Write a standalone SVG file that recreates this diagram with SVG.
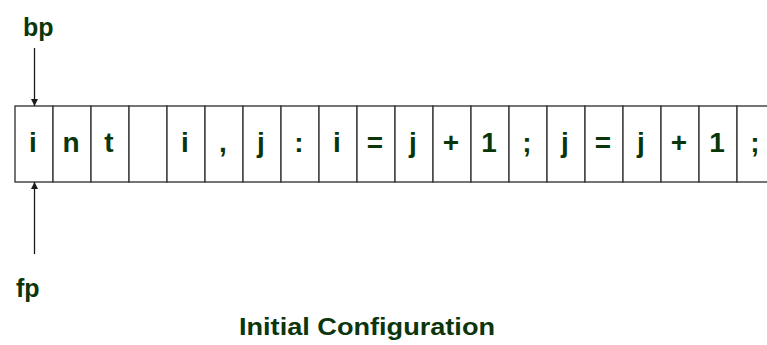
<svg xmlns="http://www.w3.org/2000/svg" width="767" height="345" viewBox="0 0 767 345">
<style>
.cell{fill:#ffffff;stroke:#3a3a3a;stroke-width:1.4}
.ch{font-family:"Liberation Sans",Arial,sans-serif;font-weight:bold;font-size:28px;fill:#0b350b;text-anchor:middle}
.lbl{font-family:"Liberation Sans",Arial,sans-serif;font-weight:bold;font-size:25px;fill:#0b350b}
.title{font-family:"Liberation Sans",Arial,sans-serif;font-weight:bold;font-size:24px;fill:#0b350b}
.arr{stroke:#1a1a1a;stroke-width:1.3;fill:none}
</style>
<defs>
<marker id="ah" viewBox="0 0 10 10" refX="10" refY="5" markerWidth="7" markerHeight="7" orient="auto" markerUnits="userSpaceOnUse">
<path d="M0,0 L10,5 L0,10 z" fill="#1a1a1a"/>
</marker>
</defs>
<rect width="767" height="345" fill="#ffffff"/>
<g id="buffer">
<g id="c0"><rect class="cell" x="15" y="106" width="38" height="76"/><text class="ch" x="33" y="152">i</text></g>
<g id="c1"><rect class="cell" x="53" y="106" width="38" height="76"/><text class="ch" x="71" y="152">n</text></g>
<g id="c2"><rect class="cell" x="91" y="106" width="38" height="76"/><text class="ch" x="109" y="152">t</text></g>
<g id="c3"><rect class="cell" x="129" y="106" width="38" height="76"/></g>
<g id="c4"><rect class="cell" x="167" y="106" width="38" height="76"/><text class="ch" x="185" y="152">i</text></g>
<g id="c5"><rect class="cell" x="205" y="106" width="38" height="76"/><text class="ch" x="223" y="152">,</text></g>
<g id="c6"><rect class="cell" x="243" y="106" width="38" height="76"/><text class="ch" x="261" y="152">j</text></g>
<g id="c7"><rect class="cell" x="281" y="106" width="38" height="76"/><text class="ch" x="299" y="152">:</text></g>
<g id="c8"><rect class="cell" x="319" y="106" width="38" height="76"/><text class="ch" x="337" y="152">i</text></g>
<g id="c9"><rect class="cell" x="357" y="106" width="38" height="76"/><text class="ch" x="375" y="152">=</text></g>
<g id="c10"><rect class="cell" x="395" y="106" width="38" height="76"/><text class="ch" x="413" y="152">j</text></g>
<g id="c11"><rect class="cell" x="433" y="106" width="38" height="76"/><text class="ch" x="451" y="152">+</text></g>
<g id="c12"><rect class="cell" x="471" y="106" width="38" height="76"/><text class="ch" x="489" y="152">1</text></g>
<g id="c13"><rect class="cell" x="509" y="106" width="38" height="76"/><text class="ch" x="527" y="152">;</text></g>
<g id="c14"><rect class="cell" x="547" y="106" width="38" height="76"/><text class="ch" x="565" y="152">j</text></g>
<g id="c15"><rect class="cell" x="585" y="106" width="38" height="76"/><text class="ch" x="603" y="152">=</text></g>
<g id="c16"><rect class="cell" x="623" y="106" width="38" height="76"/><text class="ch" x="641" y="152">j</text></g>
<g id="c17"><rect class="cell" x="661" y="106" width="38" height="76"/><text class="ch" x="679" y="152">+</text></g>
<g id="c18"><rect class="cell" x="699" y="106" width="38" height="76"/><text class="ch" x="717" y="152">1</text></g>
<g id="c19"><rect class="cell" x="737" y="106" width="38" height="76"/><text class="ch" x="755" y="152">;</text></g>
</g>
<g id="bp"><text class="lbl" x="23" y="36">bp</text></g>
<g id="fp"><text class="lbl" x="16" y="297">fp</text></g>
<g id="connectors">
<line class="arr" x1="34.5" y1="48" x2="34.5" y2="106" marker-end="url(#ah)"/>
<line class="arr" x1="34.5" y1="254" x2="34.5" y2="182" marker-end="url(#ah)"/>
</g>
<g id="caption"><text class="title" x="239" y="335" textLength="256" lengthAdjust="spacingAndGlyphs">Initial Configuration</text></g>
</svg>
